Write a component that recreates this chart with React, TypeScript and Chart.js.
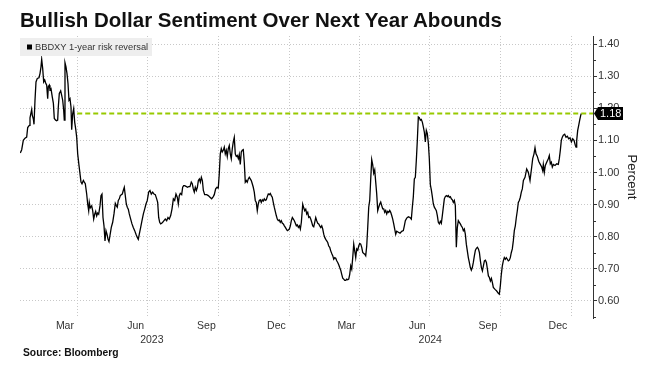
import React, { useEffect, useRef } from "react";
import { Chart, registerables } from "chart.js";

Chart.register(...registerables);

const TITLE = "Bullish Dollar Sentiment Over Next Year Abounds";
const SOURCE = "Source: Bloomberg";
const SERIES_LABEL = "BBDXY 1-year risk reversal";
const Y_TITLE = "Percent";

// x = days since 2023-01-01
const DAYS = [
  15.0, 16.8, 18.9, 21.1, 23.3, 24.6, 26.7, 27.6, 29.8, 30.6,
  32.0, 32.8, 34.1, 35.4, 37.1, 39.3, 40.6, 41.9, 42.8, 44.1,
  45.4, 46.7, 48.0, 49.3, 50.6, 51.4, 52.7, 53.6, 54.9, 56.6,
  58.0, 59.2, 61.0, 62.3, 63.6, 64.4, 65.7, 67.5, 68.8, 70.1,
  71.4, 72.2, 73.1, 74.4, 75.7, 77.0, 78.3, 79.6, 80.9, 81.8,
  83.1, 84.4, 85.7, 87.0, 88.3, 89.6, 91.3, 92.6, 93.9, 95.2,
  97.0, 98.2, 99.5, 101.3, 102.6, 103.9, 104.7, 106.0, 107.8, 109.1,
  110.4, 111.7, 113.0, 114.3, 115.6, 116.9, 118.6, 119.9, 121.2, 122.5,
  123.8, 125.1, 126.4, 127.7, 129.0, 130.3,
  133.3, 135.1, 136.8, 138.5, 139.8, 141.1, 142.4, 143.7, 145.0, 146.3,
  147.6, 148.9, 150.2, 151.5, 152.8, 154.1, 155.4, 156.7, 158.5, 160.2,
  161.9, 163.7, 165.4, 167.1, 168.4, 169.7, 171.5, 173.2, 175.0, 176.7,
  178.4, 180.1, 181.9, 183.6, 185.3, 187.1, 188.8, 190.5, 192.3, 193.6,
  194.9, 196.2, 197.5, 198.8, 200.1, 201.8, 203.5, 205.3, 207.0, 208.7,
  210.5, 212.2, 214.0, 215.7, 217.4, 219.1, 220.4, 221.7, 223.0, 224.8,
  226.1, 227.4, 228.7, 230.4, 232.2, 233.9, 235.6, 237.3, 238.6, 239.9,
  241.2, 242.5, 243.9, 245.2, 246.5, 247.8, 249.1, 250.4, 251.7, 253.0,
  254.7,
  257.3, 259.4, 261.6, 263.8, 265.9, 267.2, 269.0, 270.7, 272.4, 273.7,
  275.0, 276.3, 277.6, 278.9, 280.2, 281.5, 282.8, 284.1, 285.4, 286.7,
  288.0, 289.3, 290.6, 291.9, 293.2, 294.5, 295.8, 297.1, 298.5, 299.7,
  301.0, 302.3, 303.6, 304.9, 306.2, 307.5, 308.8, 310.1, 311.4, 312.7,
  314.0, 315.3, 316.6, 317.9, 319.2, 320.5, 321.8, 323.1, 324.4, 325.7,
  327.0, 328.3, 329.6, 330.9, 332.2, 333.5, 334.8, 336.1, 337.4, 338.7,
  340.0, 341.3, 342.6, 343.9, 345.2, 346.5, 347.8, 349.1, 350.4, 351.7,
  353.0, 354.3, 355.7, 357.0, 358.3, 359.6, 360.9, 362.2, 363.5, 364.8,
  366.1, 367.4, 368.7, 370.0, 371.3, 372.6, 373.9, 375.1, 376.5, 377.8,
  379.1, 380.4,
  382.2, 383.5, 384.8, 386.1, 387.4, 388.7, 390.0, 391.3, 392.6, 393.9,
  395.2, 396.5, 397.8, 399.1, 400.4, 401.7, 403.0, 404.3, 405.6, 406.9,
  408.2, 409.5, 410.8, 412.1, 413.4, 414.7, 416.0, 417.3, 418.6, 419.9,
  421.2, 422.5, 423.8, 425.1, 426.4, 427.7, 429.0, 430.3, 431.6, 432.9,
  434.2, 435.5, 436.8, 438.1, 439.4, 440.7, 442.0, 443.3, 444.6, 445.9,
  447.2, 448.5, 449.8, 451.1, 452.4, 453.7, 455.0, 456.3, 457.6, 458.9,
  460.2, 461.5, 462.8, 464.1, 465.4, 466.7, 468.0, 469.3, 470.6, 471.9,
  473.2, 474.5, 475.8, 477.1, 478.4, 479.7, 481.0, 482.3, 483.6, 484.9,
  486.2, 487.5, 488.8, 490.1, 491.4, 492.7, 494.0, 495.3, 496.6, 497.9,
  499.2, 500.5, 501.8, 503.1,
  504.4, 506.5, 508.7, 510.9, 513.0, 514.3, 515.6, 517.4, 519.5, 521.7,
  523.4, 524.7, 526.0, 527.3, 528.6, 529.9, 531.2, 532.5, 533.8, 535.1,
  536.4, 537.7, 539.0, 540.3, 541.6, 542.9, 544.2, 545.6, 546.8, 548.1,
  549.4, 550.7, 552.0, 553.3, 554.6, 555.9, 557.2, 558.5, 559.8, 561.1,
  562.4, 563.7, 565.0, 566.3, 567.6, 568.9, 570.2, 571.5, 572.8, 574.1,
  575.4, 576.7, 578.0, 579.3, 580.6, 581.9, 583.2, 584.5, 585.8, 587.1,
  588.4, 589.7, 591.0, 592.3, 593.6, 594.9, 596.2, 597.5, 598.8, 600.1,
  601.4, 602.7, 604.0, 605.4, 606.7, 608.0, 609.3, 610.6, 611.9, 613.2,
  614.5, 615.8, 617.1, 618.4, 619.7, 621.0, 622.3, 623.6, 624.9, 626.2,
  627.5, 628.8,
  630.0, 632.2, 634.4, 636.5, 637.8, 639.1, 640.4, 641.7, 643.0, 644.3,
  645.6, 646.9, 648.2, 649.5, 650.8, 652.1, 653.4, 654.7, 656.0, 657.3,
  658.6, 659.9, 661.2, 662.5, 663.8, 665.1, 666.4, 667.7, 669.1, 671.2,
  673.4, 675.5, 677.7, 679.9, 681.2, 682.9, 684.2, 685.5, 687.2, 689.0,
  690.7, 692.9, 694.2, 695.0, 696.3, 697.6, 699.4, 701.5, 702.8, 704.1,
  705.4, 706.7, 708.1, 710.2, 712.4, 714.5, 715.8, 717.1, 718.4, 719.7,
  721.0, 722.8, 724.5, 726.2, 728.0, 729.7, 731.5, 733.2, 734.9, 736.7,
  737.5, 738.4, 739.7, 741.0, 742.3, 743.6, 744.5,
];

const VALUES = [
  1.061, 1.071, 1.100, 1.107, 1.110, 1.140, 1.147, 1.170, 1.196, 1.178,
  1.166, 1.150, 1.225, 1.282, 1.293, 1.295, 1.308, 1.329, 1.352, 1.324,
  1.282, 1.288, 1.279, 1.272, 1.230, 1.267, 1.272, 1.258, 1.261, 1.235,
  1.215, 1.168, 1.163, 1.161, 1.163, 1.204, 1.246, 1.254, 1.240, 1.225,
  1.194, 1.163, 1.342, 1.329, 1.308, 1.277, 1.225, 1.230, 1.204, 1.133,
  1.183, 1.199, 1.157, 1.136, 1.110, 1.058, 1.022, 0.996, 0.970, 0.965,
  0.975, 0.970, 0.965, 0.933, 0.902, 0.881, 0.907, 0.890, 0.896, 0.881,
  0.855, 0.870, 0.879, 0.865, 0.874, 0.870, 0.896, 0.928, 0.933, 0.860,
  0.834, 0.787, 0.819, 0.808, 0.793, 0.785,
  0.829, 0.845, 0.871, 0.904, 0.897, 0.892, 0.913, 0.918, 0.928, 0.931,
  0.933, 0.944, 0.954, 0.928, 0.902, 0.892, 0.886, 0.871, 0.855, 0.840,
  0.829, 0.819, 0.808, 0.798, 0.792, 0.808, 0.829, 0.850, 0.871, 0.886,
  0.902, 0.913, 0.939, 0.944, 0.933, 0.939, 0.933, 0.931, 0.918, 0.907,
  0.860, 0.845, 0.840, 0.842, 0.845, 0.850, 0.855, 0.850, 0.860, 0.855,
  0.866, 0.886, 0.918, 0.913, 0.933, 0.923, 0.902, 0.928, 0.935, 0.931,
  0.954, 0.959, 0.959, 0.957, 0.954, 0.956, 0.956, 0.970, 0.965, 0.949,
  0.939, 0.954, 0.944, 0.954, 0.975, 0.980, 0.970, 0.985, 0.975, 0.944,
  0.931,
  0.931, 0.928, 0.923, 0.918, 0.925, 0.931, 0.949, 0.954, 0.952, 0.996,
  1.058, 1.074, 1.064, 1.069, 1.079, 1.058, 1.069, 1.050, 1.074, 1.084,
  1.058, 1.043, 1.074, 1.095, 1.109, 1.058, 1.050, 1.053, 1.043, 1.056,
  1.025, 1.064, 1.069, 1.071, 1.032, 0.970, 0.975, 0.970, 0.980, 0.985,
  0.980, 0.975, 0.965, 0.954, 0.939, 0.913, 0.907, 0.881, 0.902, 0.913,
  0.915, 0.907, 0.915, 0.911, 0.918, 0.913, 0.915, 0.925, 0.933, 0.931,
  0.935, 0.928, 0.923, 0.907, 0.892, 0.879, 0.866, 0.855, 0.850, 0.852,
  0.845, 0.850, 0.842, 0.840, 0.834, 0.829, 0.824, 0.819, 0.821, 0.824,
  0.834, 0.850, 0.860, 0.855, 0.850, 0.842, 0.834, 0.837, 0.829, 0.834,
  0.824, 0.845,
  0.901, 0.890, 0.881, 0.886, 0.871, 0.876, 0.860, 0.862, 0.855, 0.845,
  0.834, 0.831, 0.845, 0.860, 0.850, 0.842, 0.840, 0.834, 0.829, 0.834,
  0.824, 0.808, 0.798, 0.792, 0.787, 0.782, 0.771, 0.767, 0.756, 0.748,
  0.741, 0.730, 0.735, 0.733, 0.725, 0.720, 0.713, 0.704, 0.696, 0.683,
  0.671, 0.668, 0.664, 0.664, 0.668, 0.666, 0.668, 0.683, 0.709, 0.699,
  0.735, 0.777, 0.756, 0.735, 0.762, 0.758, 0.771, 0.779, 0.777, 0.767,
  0.751, 0.748, 0.746, 0.741, 0.771, 0.829, 0.892, 0.913, 0.980, 1.040,
  1.024, 0.998, 1.008, 0.970, 0.933, 0.881, 0.892, 0.902, 0.908, 0.897,
  0.887, 0.887, 0.876, 0.882, 0.871, 0.879, 0.876, 0.882, 0.876, 0.866,
  0.855, 0.840, 0.824, 0.808,
  0.817, 0.814, 0.811, 0.817, 0.819, 0.834, 0.850, 0.858, 0.862, 0.860,
  0.855, 0.892, 0.925, 0.980, 0.985, 1.038, 1.100, 1.173, 1.171, 1.163,
  1.165, 1.157, 1.142, 1.126, 1.095, 1.131, 1.121, 1.089, 1.042, 0.962,
  0.946, 0.925, 0.902, 0.892, 0.887, 0.881, 0.866, 0.845, 0.840, 0.848,
  0.842, 0.866, 0.892, 0.918, 0.925, 0.928, 0.925, 0.928, 0.923, 0.925,
  0.918, 0.915, 0.907, 0.913, 0.897, 0.767, 0.829, 0.850, 0.845, 0.840,
  0.834, 0.829, 0.819, 0.824, 0.808, 0.777, 0.756, 0.735, 0.720, 0.704,
  0.696, 0.704, 0.720, 0.741, 0.758, 0.764, 0.767, 0.762, 0.751, 0.725,
  0.704, 0.694, 0.709, 0.725, 0.727, 0.720, 0.699, 0.678, 0.673, 0.662,
  0.670, 0.657,
  0.642, 0.636, 0.631, 0.624, 0.621, 0.647, 0.683, 0.709, 0.725, 0.735,
  0.730, 0.735, 0.730, 0.725, 0.727, 0.735, 0.751, 0.762, 0.787, 0.819,
  0.834, 0.860, 0.881, 0.907, 0.913, 0.923, 0.939, 0.949, 0.975, 0.985,
  1.011, 1.001, 0.975, 1.017, 1.043, 1.058, 1.077, 1.058, 1.050, 1.035,
  1.027, 1.017, 1.006, 1.025, 1.001, 1.022, 1.032, 1.043, 1.053, 1.027,
  1.032, 1.017, 1.025, 1.022, 1.027, 1.025, 1.043, 1.069, 1.100, 1.110,
  1.116, 1.119, 1.110, 1.113, 1.105, 1.108, 1.095, 1.105, 1.100, 1.084,
  1.079, 1.100, 1.131, 1.147, 1.163, 1.178, 1.184,
];

// vertical grid lines at quarter starts (days since 2023-01-01)
const GRID_DAYS = [90, 181, 273, 365, 456, 547, 639, 731];
// month labels at mid-month
const MONTH_DAYS = [73, 165, 257, 348, 439, 531, 623, 714];
const MONTH_LABELS = ["Mar", "Jun", "Sep", "Dec", "Mar", "Jun", "Sep", "Dec"];
const YEAR_DAYS = [186, 548];
const YEAR_LABELS = ["2023", "2024"];
const Y_TICKS = [0.6, 0.7, 0.8, 0.9, 1.0, 1.1, 1.2, 1.3, 1.4];
const Y_MINOR = [0.55, 0.65, 0.75, 0.85, 0.95, 1.05, 1.15, 1.25, 1.35];

const X_MIN = 14.6;
const X_MAX = 759.6;
const Y_MIN = 0.547;
const Y_MAX = 1.425;
const REF_START = 89;
const LAST = VALUES[VALUES.length - 1];

const FONT = '"Liberation Sans", Arial, sans-serif';

export default function App() {
  const ref = useRef<HTMLCanvasElement | null>(null);

  useEffect(() => {
    if (!ref.current) return;
    const overlay = {
      id: "overlay",
      afterDraw(chart: any) {
        const ctx = chart.ctx as CanvasRenderingContext2D;
        const ys = chart.scales.y;
        const area = chart.chartArea;
        ctx.save();
        // minor ticks
        ctx.strokeStyle = "#333";
        ctx.lineWidth = 1;
        Y_MINOR.forEach((v) => {
          const py = Math.round(ys.getPixelForValue(v)) + 0.5;
          ctx.beginPath();
          ctx.moveTo(area.right, py);
          ctx.lineTo(area.right + 3, py);
          ctx.stroke();
        });
        // legend box
        ctx.fillStyle = "#eeeeee";
        ctx.fillRect(area.left, 38, 132, 18);
        ctx.fillStyle = "#000";
        ctx.fillRect(area.left + 7, 44.5, 5, 5);
        ctx.fillStyle = "#333";
        ctx.font = `9.3px ${FONT}`;
        ctx.textBaseline = "middle";
        ctx.textAlign = "left";
        ctx.fillText(SERIES_LABEL, area.left + 15, 47.5);
        // last value tag
        const py = ys.getPixelForValue(LAST);
        const x0 = area.right + 1;
        ctx.fillStyle = "#000";
        ctx.beginPath();
        ctx.moveTo(x0, py);
        ctx.lineTo(x0 + 4, py - 6.5);
        ctx.lineTo(x0 + 29, py - 6.5);
        ctx.lineTo(x0 + 29, py + 6.5);
        ctx.lineTo(x0 + 4, py + 6.5);
        ctx.closePath();
        ctx.fill();
        ctx.fillStyle = "#fff";
        ctx.font = `11px ${FONT}`;
        ctx.fillText(LAST.toFixed(2), x0 + 6, py + 0.5);
        ctx.restore();
      },
    };

    const chart = new Chart(ref.current, {
      type: "line",
      data: {
        datasets: [
          {
            label: SERIES_LABEL,
            data: DAYS.map((d, i) => ({ x: d, y: VALUES[i] })),
            borderColor: "#000",
            borderWidth: 1.3,
            pointRadius: 0,
            tension: 0,
            order: 2,
          },
          {
            label: "last",
            data: [
              { x: REF_START, y: LAST },
              { x: X_MAX, y: LAST },
            ],
            borderColor: "#97c900",
            borderWidth: 2,
            borderDash: [5, 3],
            pointRadius: 0,
            order: 1,
          },
        ],
      },
      options: {
        animation: false,
        responsive: false,
        layout: { padding: { left: 20, top: 36, right: 0, bottom: 28 } },
        plugins: { legend: { display: false }, tooltip: { enabled: false } },
        scales: {
          x: {
            type: "linear",
            position: "bottom",
            min: X_MIN,
            max: X_MAX,
            weight: 0,
            afterBuildTicks: (s: any) => {
              s.ticks = GRID_DAYS.map((v) => ({ value: v }));
            },
            afterFit: (s: any) => {
              s.height = 0;
            },
            ticks: { display: false },
            grid: { color: "#c8c8c8", drawTicks: false, lineWidth: 1 },
            border: { display: false, dash: [1, 2] },
          },
          xm: {
            type: "linear",
            position: "bottom",
            min: X_MIN,
            max: X_MAX,
            weight: 1,
            afterBuildTicks: (s: any) => {
              s.ticks = MONTH_DAYS.map((v) => ({ value: v }));
            },
            afterFit: (s: any) => {
              s.height = 15;
            },
            ticks: {
              autoSkip: false,
              maxRotation: 0,
              padding: 2,
              color: "#333",
              font: { family: FONT, size: 10.5 },
              callback: (_v: any, i: number) => MONTH_LABELS[i],
            },
            grid: { display: false, drawTicks: false },
            border: { display: false },
          },
          xy: {
            type: "linear",
            position: "bottom",
            min: X_MIN,
            max: X_MAX,
            weight: 2,
            afterBuildTicks: (s: any) => {
              s.ticks = YEAR_DAYS.map((v) => ({ value: v }));
            },
            afterFit: (s: any) => {
              s.height = 14;
            },
            ticks: {
              autoSkip: false,
              maxRotation: 0,
              padding: 1,
              color: "#333",
              font: { family: FONT, size: 10.5 },
              callback: (_v: any, i: number) => YEAR_LABELS[i],
            },
            grid: { display: false, drawTicks: false },
            border: { display: false },
          },
          y: {
            type: "linear",
            position: "right",
            min: Y_MIN,
            max: Y_MAX,
            afterBuildTicks: (s: any) => {
              s.ticks = Y_TICKS.map((v) => ({ value: v }));
            },
            afterFit: (s: any) => {
              s.width = 62;
            },
            ticks: {
              padding: 1,
              color: "#333",
              font: { family: FONT, size: 11 },
              callback: (v: any) => Number(v).toFixed(2),
            },
            grid: {
              color: "#c8c8c8",
              drawTicks: true,
              tickLength: 4,
              tickColor: "#333",
              tickBorderDash: [],
            },
            border: { display: true, color: "#333", width: 1, dash: [1, 2] },
            title: {
              display: true,
              text: Y_TITLE,
              color: "#222",
              font: { family: FONT, size: 13 },
              padding: { top: 16, bottom: 0 },
            },
          },
        },
      } as any,
      plugins: [overlay],
    });
    return () => chart.destroy();
  }, []);

  return (
    <div style={{ position: "absolute", left: 0, top: 0, width: 655, height: 375, background: "#fff" }}>
      <canvas ref={ref} width={655} height={375} style={{ display: "block", position: "absolute", left: 0, top: 0 }} />
      <div
        style={{
          position: "absolute",
          left: 20,
          top: 10,
          font: `bold 20.5px ${FONT}`,
          lineHeight: "20.5px",
          color: "#111",
          whiteSpace: "nowrap",
        }}
      >
        {TITLE}
      </div>
      <div
        style={{
          position: "absolute",
          left: 23,
          top: 348,
          font: `bold 10.3px ${FONT}`,
          lineHeight: "10.3px",
          color: "#111",
          whiteSpace: "nowrap",
        }}
      >
        {SOURCE}
      </div>
    </div>
  );
}
